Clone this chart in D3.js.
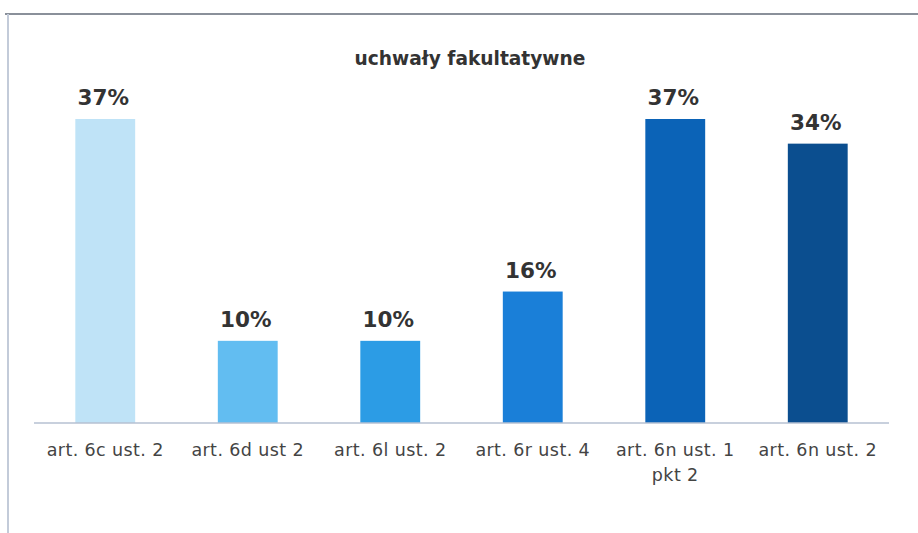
<!DOCTYPE html>
<html>
<head>
<meta charset="utf-8">
<script src="https://cdn.jsdelivr.net/npm/d3@7"></script>
<style>
  body { margin: 0; background: #fff; }
  svg { display: block; }
</style>
</head>
<body>
<div id="chart"></div>
<script>
// data
const title = "uchwały fakultatywne";
const categories = [
  ["art. 6c ust. 2"],
  ["art. 6d ust 2"],
  ["art. 6l ust. 2"],
  ["art. 6r ust. 4"],
  ["art. 6n ust. 1", "pkt 2"],
  ["art. 6n ust. 2"]
];
const values = [37, 10, 10, 16, 37, 34];
const barColors = ["#bfe3f7", "#62bdf1", "#2c9ce5", "#1a7fd8", "#0b63b7", "#0b4e8f"];

const width = 918, height = 533;
const baseY = 423;

const svg = d3.select("#chart")
  .append("svg")
  .attr("width", width)
  .attr("height", height);

// frame of the scanned chart
svg.append("line")
  .attr("x1", 5).attr("x2", width)
  .attr("y1", 14).attr("y2", 14)
  .attr("stroke", "#8a909a")
  .attr("stroke-width", 2);
svg.append("line")
  .attr("x1", 8).attr("x2", 8)
  .attr("y1", 14).attr("y2", height)
  .attr("stroke", "#c3cbd9")
  .attr("stroke-width", 2);

const x = d3.scaleBand()
  .domain(d3.range(values.length))
  .range([34, 889])
  .paddingInner(0.58)
  .paddingOuter(0.29);

// 37% -> ~303px tall
const y = d3.scaleLinear()
  .domain([0, 37])
  .range([baseY, 119]);

svg.append("text")
  .attr("x", 470)
  .attr("y", 65)
  .attr("text-anchor", "middle")
  .attr("font-family", "DejaVu Sans, Verdana, sans-serif")
  .attr("font-weight", "bold")
  .attr("font-size", 18.6)
  .attr("fill", "#333")
  .text(title);

svg.append("g")
  .selectAll("rect")
  .data(values)
  .join("rect")
  .attr("x", (d, i) => x(i))
  .attr("y", d => y(d))
  .attr("width", x.bandwidth())
  .attr("height", d => baseY - y(d))
  .attr("fill", (d, i) => barColors[i]);

// axis line
svg.append("line")
  .attr("x1", 34).attr("x2", 889)
  .attr("y1", baseY).attr("y2", baseY)
  .attr("stroke", "#b6c0d2")
  .attr("stroke-width", 1.5);

svg.append("g")
  .selectAll("text")
  .data(values)
  .join("text")
  .attr("x", (d, i) => x(i) + x.bandwidth() / 2 - 2)
  .attr("y", d => y(d) - 14)
  .attr("text-anchor", "middle")
  .attr("font-family", "DejaVu Sans, Verdana, sans-serif")
  .attr("font-weight", "bold")
  .attr("font-size", 21.5)
  .attr("fill", "#333")
  .text(d => d + "%");

const labels = svg.append("g")
  .selectAll("text")
  .data(categories)
  .join("text")
  .attr("x", (d, i) => x(i) + x.bandwidth() / 2)
  .attr("y", 456)
  .attr("text-anchor", "middle")
  .attr("font-family", "DejaVu Sans, Verdana, sans-serif")
  .attr("font-size", 17.5)
  .attr("letter-spacing", 0.4)
  .attr("fill", "#444");

labels.selectAll("tspan")
  .data(d => d)
  .join("tspan")
  .attr("x", function () { return d3.select(this.parentNode).attr("x"); })
  .attr("dy", (d, i) => i === 0 ? 0 : 25)
  .text(d => d);
</script>
</body>
</html>
